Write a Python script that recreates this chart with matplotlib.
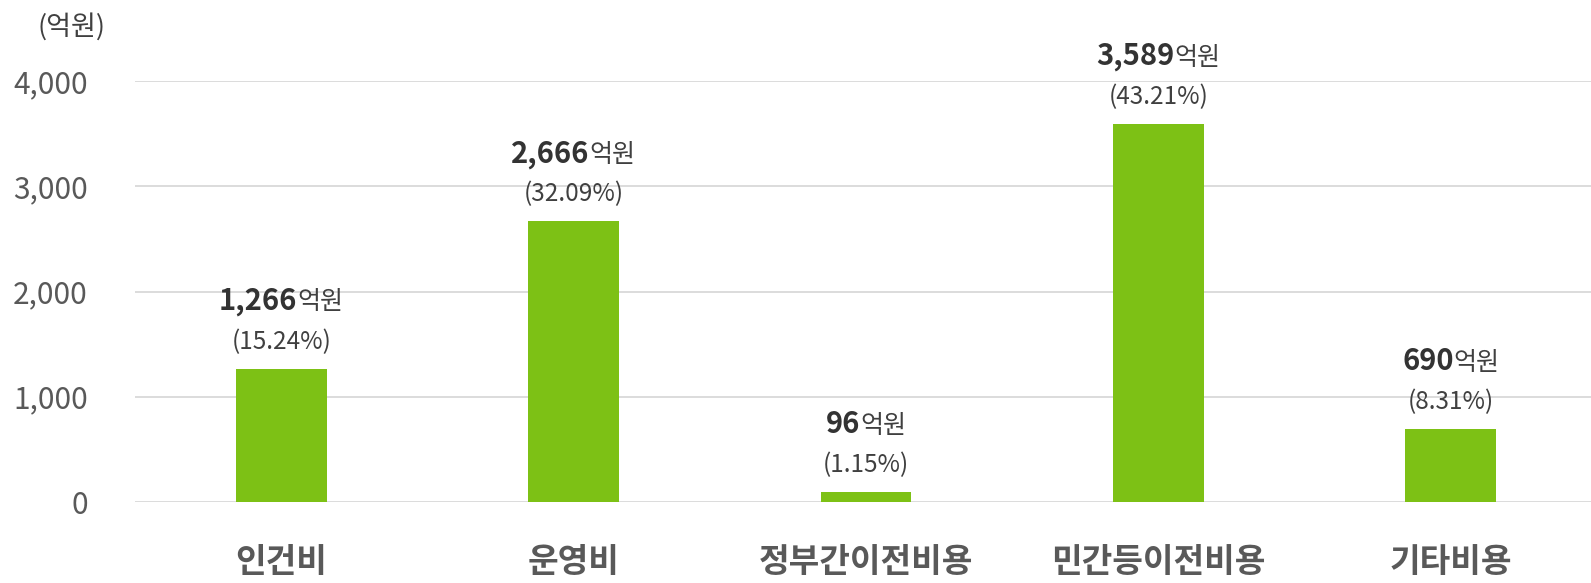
import numpy as np
import matplotlib.pyplot as plt
from matplotlib.offsetbox import TextArea, HPacker, AnnotationBbox

plt.rcParams['font.family'] = ['Noto Sans CJK KR', 'DejaVu Sans']

# 데이터
categories = ['인건비', '운영비', '정부간이전비용', '민간등이전비용', '기타비용']
values = [1266, 2666, 96, 3589, 690]
shares = ['15.24%', '32.09%', '1.15%', '43.21%', '8.31%']
yticks = [0, 1000, 2000, 3000, 4000]

bar_color = '#7dc115'

fig = plt.figure(figsize=(15.91, 5.83), dpi=100)
ax = fig.add_axes([135 / 1591, (583 - 502) / 583, (1597 - 135) / 1591, 421 / 583])

x = np.arange(len(categories))
ax.bar(x, values, width=0.31, color=bar_color, zorder=3)

ax.set_xlim(-0.5, 4.5)
ax.set_ylim(0, 4000)
ax.set_yticks(yticks)
ax.set_yticklabels([f'{v:,}' for v in yticks], fontsize=21.5, color='#595959')
ax.set_xticks(x)
ax.set_xticklabels(categories, fontsize=24, fontweight='bold', color='#595959')
ax.tick_params(axis='y', length=0, pad=34)
ax.tick_params(axis='x', length=0, pad=32)
ax.grid(axis='y', color='#d9d9d9', linewidth=1.3, zorder=0)
for s in ax.spines.values():
    s.set_visible(False)

# 값 라벨
for xi, v, p in zip(x, values, shares):
    num = TextArea(f'{v:,}', textprops=dict(fontsize=21, fontweight='bold', color='#333333'))
    unit = TextArea('억원', textprops=dict(fontsize=18, color='#404040'))
    box = HPacker(children=[num, unit], pad=0, sep=0, align='baseline')
    ab = AnnotationBbox(box, (xi, v), xybox=(0, 49), xycoords='data',
                        boxcoords='offset points', frameon=False,
                        box_alignment=(0.5, 0.5), annotation_clip=False)
    ax.add_artist(ab)
    ax.annotate(f'({p})', (xi, v), xytext=(0, 19.5), textcoords='offset points',
                ha='center', va='center', fontsize=17.5, color='#404040',
                annotation_clip=False)

fig.text(71 / 1591, 1 - 27 / 583, '(억원)', ha='center', va='center',
         fontsize=19.5, color='#404040')

fig.savefig('out.png', dpi=100)
